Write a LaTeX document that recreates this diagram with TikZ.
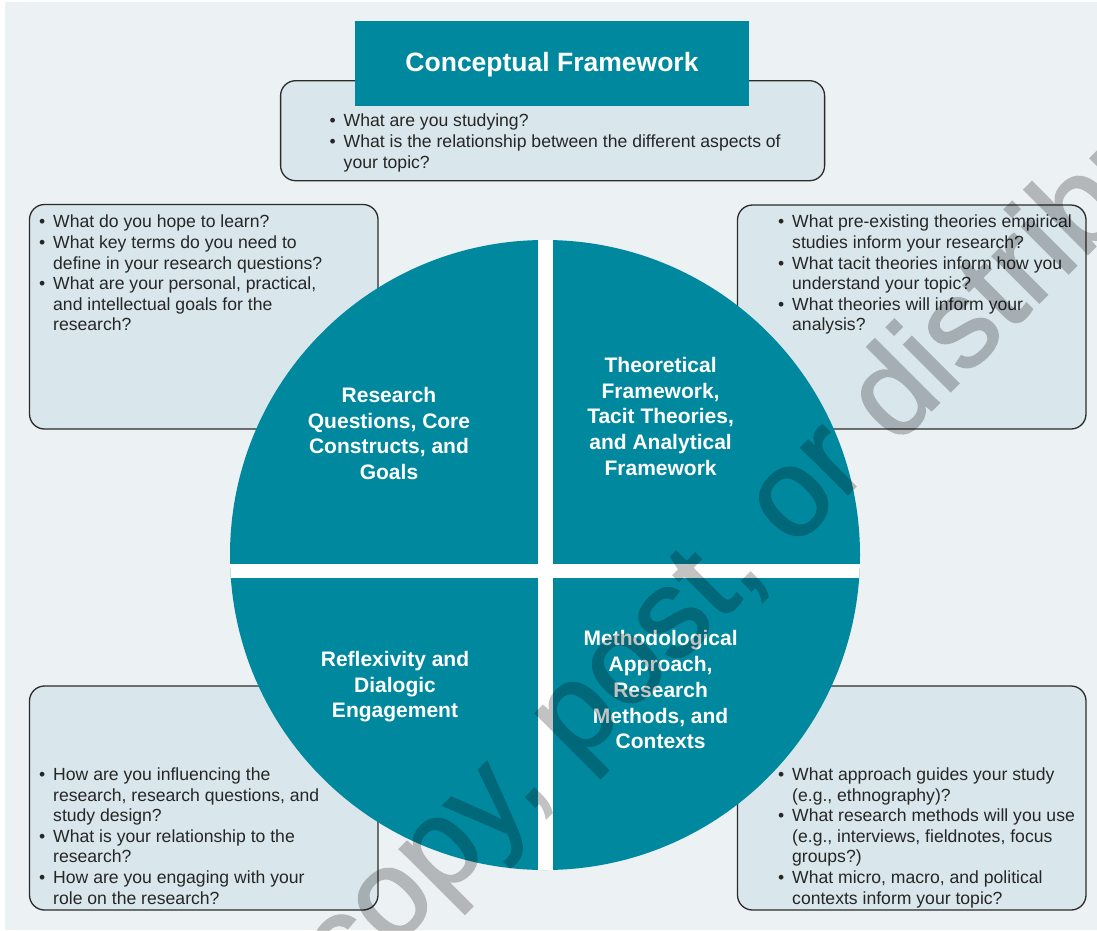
\documentclass[tikz,border=0pt]{standalone}
\usepackage{fontspec}
\setmainfont{Liberation Sans}
\newfontfamily\wmfont[FakeBold=1.5]{Liberation Sans}
\definecolor{tealc}{HTML}{00899E}
\definecolor{bgc}{HTML}{ECF1F4}
\definecolor{boxc}{HTML}{D9E7EC}
\definecolor{bordc}{HTML}{2B2B2B}
\newcommand{\bodyfont}{\fontsize{17.6}{20.6}\selectfont}
\newcommand{\labfont}{\fontsize{21}{25.7}\selectfont\bfseries}
\newcommand{\bu}{\makebox[14pt][l]{\textbullet}}
\newcommand{\ci}{\hspace*{14pt}}
\begin{document}
\begin{tikzpicture}[x=1pt,y=-1pt,
  qbox/.style={draw=bordc, fill=boxc, line width=1.3pt, rounded corners=15pt, inner sep=0pt},
  qtext/.style={anchor=north west, align=left, inner sep=0pt, font=\bodyfont, text=black!85},
  lab/.style={anchor=north, align=center, inner sep=0pt, font=\labfont, text=white},
  titlebox/.style={fill=tealc, inner sep=0pt, text=white, font=\fontsize{26.5}{30}\selectfont\bfseries}]
\useasboundingbox (0,0) rectangle (1097,930);
\fill[white] (0,0) rectangle (1097,930);
\fill[bgc] (5,2) rectangle (1097,930);

% question boxes
\node[qbox, minimum width=544pt, minimum height=100pt] (topbox) at (552.6,130.7) {};
\node[qbox, minimum width=348.5pt, minimum height=224.5pt] (tlbox) at (203.75,316.75) {};
\node[qbox, minimum width=348.5pt, minimum height=224pt] (trbox) at (911.75,317) {};
\node[qbox, minimum width=348.5pt, minimum height=224pt] (blbox) at (203.75,798) {};
\node[qbox, minimum width=348.5pt, minimum height=224pt] (brbox) at (911.75,798) {};

% title
\node[titlebox, minimum width=394pt, minimum height=84.5pt, text height=19pt, text depth=3.5pt] (title) at (552,63.25) {Conceptual Framework};

% question texts
\node[qtext] (toptext) at (329.5,114) {\bu What are you studying?\\
\bu What is the relationship between the different aspects of\\
\ci your topic?};
\node[qtext] (tltext) at (39,215) {\bu What do you hope to learn?\\
\bu What key terms do you need to\\
\ci define in your research questions?\\
\bu What are your personal, practical,\\
\ci and intellectual goals for the\\
\ci research?};
\node[qtext] (trtext) at (778,215) {\bu What pre-existing theories empirical\\
\ci studies inform your research?\\
\bu What tacit theories inform how you\\
\ci understand your topic?\\
\bu What theories will inform your\\
\ci analysis?};
\node[qtext] (bltext) at (39,767.5) {\bu How are you influencing the\\
\ci research, research questions, and\\
\ci study design?\\
\bu What is your relationship to the\\
\ci research?\\
\bu How are you engaging with your\\
\ci role on the research?};
\node[qtext] (brtext) at (778,767.5) {\bu What approach guides your study\\
\ci (e.g., ethnography)?\\
\bu What research methods will you use\\
\ci (e.g., interviews, fieldnotes, focus\\
\ci groups?)\\
\bu What micro, macro, and political\\
\ci contexts inform your topic?};

% wheel
\node[circle, fill=tealc, minimum size=630pt, inner sep=0pt] (wheel) at (545,555) {};
\begin{scope}
  \clip (545,555) circle (315);
  \fill[white] (538,230) rectangle (552.5,880);
  \fill[white] (220,563.5) rectangle (870,578.3);
\end{scope}

\node[lab] (rq) at (389,387) {Research\\Questions, Core\\Constructs, and\\Goals};
\node[lab] (tf) at (660.6,357) {Theoretical\\Framework,\\Tacit Theories,\\and Analytical\\Framework};
\node[lab] (rd) at (395,651) {Reflexivity and\\Dialogic\\Engagement};
\node[lab] (ma) at (660.6,630.5) {Methodological\\Approach,\\Research\\Methods, and\\Contexts};

% watermark
\begin{scope}
  \clip (0,0) rectangle (1097,930);
  \begin{scope}[transparency group, opacity=0.24]
    \node[anchor=base west, rotate=45, inner sep=0pt, font=\wmfont\fontsize{125}{150}\selectfont, text=black] (wm) at (347,995) {copy, post, or distribute};
  \end{scope}
\end{scope}
\end{tikzpicture}
\end{document}
